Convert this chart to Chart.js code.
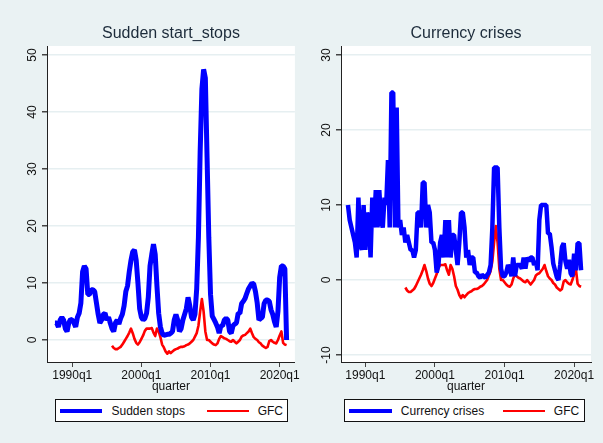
<!DOCTYPE html>
<html>
<head>
<meta charset="utf-8">
<script src="https://cdn.jsdelivr.net/npm/chart.js@4.4.1/dist/chart.umd.min.js"></script>
<style>
  body { margin: 0; background: #EAF2F3; }
  #wrap { position: relative; width: 603px; height: 443px; background: #EAF2F3; overflow: hidden; }
  canvas { position: absolute; top: 0; }
  .legend { position: absolute; top: 399px; height: 23px; box-sizing: border-box; border: 1px solid #111; background: #fff; }
  .legend .key { position: absolute; }
  .legend .lab { position: absolute; top: 3.5px; font: 12px "Liberation Sans", Arial, sans-serif; line-height: 14px; color: #111; white-space: nowrap; }
</style>
</head>
<body>
<div id="wrap">
  <canvas id="ssChart" width="301" height="443" style="left:0"></canvas>
  <canvas id="ccChart" width="302" height="443" style="left:301px"></canvas>
  <div class="legend" style="left:55px;width:233px">
    <div class="key" style="left:4px;top:8.5px;width:42px;height:4.5px;background:#0000FF"></div>
    <div class="lab" style="left:55.5px">Sudden stops</div>
    <div class="key" style="left:150.5px;top:9.5px;width:42.5px;height:2.5px;background:#FF0000"></div>
    <div class="lab" style="left:201.7px">GFC</div>
  </div>
  <div class="legend" style="left:344px;width:241px">
    <div class="key" style="left:4px;top:8.5px;width:42.5px;height:4.5px;background:#0000FF"></div>
    <div class="lab" style="left:55.8px">Currency crises</div>
    <div class="key" style="left:158px;top:9.5px;width:42.4px;height:2.5px;background:#FF0000"></div>
    <div class="lab" style="left:208.8px">GFC</div>
  </div>
</div>
<script>
// quarters are Stata quarterly dates: 1960q1 = 0, so 1987q3 = 110
const firstQuarter = 110
const gfcFirstQuarter = 143

// Sudden stops, 1987q3 - 2021q1
const ssValues = [
  3, 3, 2.3, 3.5, 4, 3.5, 2, 1.5, 3, 3.6,
  3.5, 3, 2.3, 4, 4.7, 6.5, 12, 13, 12.5, 8,
  8, 8.8, 8.8, 8.5, 6.5, 4.5, 3, 3.5, 4.5, 4.7,
  3.5, 4, 3, 2, 1.5, 3, 3.5, 2.8, 3.8, 4.5,
  6, 8.5, 9.5, 12, 14, 15.5, 15.8, 14, 10, 5.5,
  4, 3.5, 3.8, 4.7, 7.5, 13, 15, 16.8, 15, 9.5,
  4.7, 2.3, 1.2, 0.8, 0.9, 1, 1, 1.2, 1.5, 3.5,
  4.5, 3.5, 1.5, 2, 3.5, 4.5, 5.5, 7.5, 6, 4,
  3.5, 4.5, 9, 18, 33, 44, 47.5, 46, 32, 18,
  8, 4.2, 3.6, 3, 2.3, 1.2, 2.5, 2.5, 3.5, 3.8,
  3.5, 1.5, 1.2, 2.5, 2.8, 3, 4.7, 4.7, 6.4, 6.8,
  7.3, 8.2, 9, 9.5, 10, 9.8, 8.5, 6.5, 3.5, 3.8,
  4, 6.4, 7, 7, 6.8, 5.3, 4.5, 3.2, 2.3, 5,
  11, 13, 13, 12.5, 0
]

// Currency crises, 1987q3 - 2021q1
const ccValues = [
  10, 8, 7, 6, 5, 3, 11, 5, 4, 10,
  4, 9, 8, 3, 11, 7, 12, 7, 12, 8,
  7, 11, 10, 16, 7, 25, 25, 7, 23, 7,
  8, 6, 7, 5, 6, 5, 4, 4, 3, 4,
  9, 9, 7, 13, 13, 7, 10, 9, 5, 5,
  4, 1, 2, 5, 6, 3, 8, 3, 8, 3,
  6, 6, 4, 2, 5, 9, 9, 7, 3, 4,
  2, 3, 3, 1, 1, 0.5, 0.3, 0.7, 0.5, 0.3,
  0.7, 1, 2, 7, 15, 15, 15, 7, 1.5, 0.5,
  0.5, 1, 2, 1.5, 0.5, 3, 0.5, 2, 2, 2,
  1.5, 3, 1.5, 3, 2.5, 3, 3, 2, 2.5, 1.3,
  8, 10, 10, 10, 10, 6.2, 6.2, 4.4, 2.2, 1.3,
  0.4, 0, 2, 4.4, 4.9, 2.5, 1.5, 2.7, 0.9, 0.5,
  3.5, 1.3, 4.9, 4.9, 1.3
]

// GFC, 1995q4 - 2021q1
const gfcValues = [
  -1, -1.4, -1.6, -1.6, -1.4, -1.2, -0.8,
  -0.3, 0.2, 0.7, 1.3, 2, 1.2, 0.2, -0.5, -0.8, -0.4,
  0.2, 0.8, 1.6, 2, 2, 2, 2.1, 1.3, 0.7, 2,
  1.5, 0.5, -0.8, -1.3, -2, -2.4, -2, -2.3, -2, -1.75,
  -1.6, -1.5, -1.3, -1.2, -1.2, -1.1, -0.9, -0.8, -0.6, -0.3,
  0, 0.6, 1.2, 2.5, 5, 7.2, 5, 1.5, 0, 0,
  -0.3, -0.6, -0.8, -0.9, -0.6, 0.2, 0.7, 0.5, 0.3, 0.2,
  0, -0.2, -0.3, 0, -0.3, -0.6, -0.3, 0, 0.6, 0.8,
  0.9, 1.2, 1.5, 2, 1.2, 0.5, 0.2, 0, -0.4, -0.6,
  -1, -1.2, -1.4, -1.2, -0.2, 0, -0.3, -0.5, -0.6, 0,
  0.8, 1.5, -0.5, -0.8, -0.9
]

const xTickValues = [120, 160, 200, 240]
const xTickLabels = ['1990q1', '2000q1', '2010q1', '2020q1']
const ssTicks = [0, 10, 20, 30, 40, 50]
const ccTicks = [-10, 0, 10, 20, 30]

const fontFamily = '"Liberation Sans", Arial, sans-serif'

const toPoints = (start, values) => values.map((v, i) => ({ x: start + i, y: v }))

// white plot region like stata
const plotBg = {
    id: 'plotBg',
    beforeDraw(chart) {
        const { ctx, chartArea: a } = chart
        ctx.save()
        ctx.fillStyle = '#fff'
        ctx.fillRect(a.left, a.top, a.right - a.left, a.bottom - a.top)
        ctx.restore()
    }
}

// title centred on the plot region, not the whole canvas
const panelTitle = {
    id: 'panelTitle',
    afterDraw(chart, args, opts) {
        const { ctx, chartArea: a } = chart
        ctx.save()
        ctx.font = '16px ' + fontFamily
        ctx.fillStyle = '#1c2b3a'
        ctx.textAlign = 'center'
        ctx.textBaseline = 'middle'
        ctx.fillText(opts.text, (a.left + a.right) / 2, 34)
        ctx.restore()
    }
}

function makeConfig(o) {
    return {
        type: 'line',
        data: {
            datasets: [{
                label: o.label,
                data: toPoints(firstQuarter, o.values),
                borderColor: '#0000FF',
                borderWidth: o.blueWidth,
                borderJoinStyle: 'bevel',
                pointRadius: 0,
                tension: 0
            }, {
                label: 'GFC',
                data: toPoints(gfcFirstQuarter, gfcValues),
                borderColor: '#FF0000',
                borderWidth: 2.6,
                borderJoinStyle: 'round',
                pointRadius: 0,
                tension: 0
            }]
        },
        options: {
            responsive: false,
            animation: false,
            events: [],
            layout: { padding: { left: 0, right: o.padRight, top: 46, bottom: 48 } },
            plugins: {
                legend: { display: false },
                tooltip: { enabled: false },
                title: { display: false },
                panelTitle: { text: o.title }
            },
            scales: {
                x: {
                    type: 'linear',
                    min: o.xMin,
                    max: o.xMax,
                    afterBuildTicks: (s) => { s.ticks = xTickValues.map(v => ({ value: v })) },
                    afterFit: (s) => { s.height = 33 },
                    ticks: {
                        autoSkip: false,
                        maxRotation: 0,
                        padding: 1,
                        color: '#111',
                        font: { family: fontFamily, size: 12 },
                        callback: (v, i) => xTickLabels[i]
                    },
                    grid: { drawOnChartArea: false, tickLength: 5, tickColor: '#444' },
                    border: { color: '#222', width: 1 },
                    title: {
                        display: true,
                        text: 'quarter',
                        color: '#111',
                        font: { family: fontFamily, size: 12 },
                        padding: { top: 0, bottom: 1 }
                    }
                },
                y: {
                    min: o.yMin,
                    max: o.yMax,
                    afterBuildTicks: (s) => { s.ticks = o.yTicks.map(v => ({ value: v })) },
                    afterFit: (s) => { s.width = o.yWidth },
                    ticks: {
                        minRotation: 90,
                        maxRotation: 90,
                        crossAlign: 'center',
                        padding: o.yPad,
                        color: '#111',
                        font: { family: fontFamily, size: 12 }
                    },
                    grid: { color: '#E6EFF1', lineWidth: 1.5, tickLength: 5, tickColor: '#444' },
                    border: { color: '#222', width: 1 }
                }
            }
        },
        plugins: [plotBg, panelTitle]
    }
}

document.addEventListener('DOMContentLoaded', () => {
    new Chart(document.querySelector('#ssChart'), makeConfig({
        label: 'Sudden stops', title: 'Sudden start_stops', values: ssValues,
        blueWidth: 5, padRight: 5, yWidth: 47, yPad: 3,
        xMin: 105.4, xMax: 248.8, yMin: -3.86, yMax: 51.6, yTicks: ssTicks
    }))
    new Chart(document.querySelector('#ccChart'), makeConfig({
        label: 'Currency crises', title: 'Currency crises', values: ccValues,
        blueWidth: 4.5, padRight: 12, yWidth: 40, yPad: 0.5,
        xMin: 106, xMax: 249.7, yMin: -10.93, yMax: 31.2, yTicks: ccTicks
    }))
})
</script>
</body>
</html>
